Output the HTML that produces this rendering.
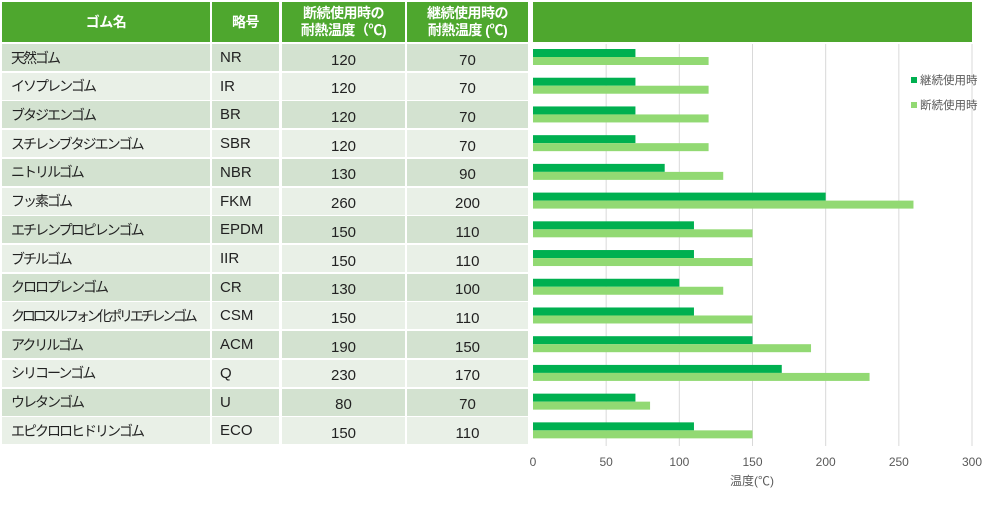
<!DOCTYPE html>
<html><head><meta charset="utf-8">
<style>
body{margin:0;width:1000px;height:511px;background:#fff;font-family:"Liberation Sans","Noto Sans CJK JP",sans-serif;position:relative;overflow:hidden}
.c{position:absolute;box-sizing:border-box;font-size:15px;color:#222;display:flex;align-items:center;white-space:nowrap;overflow:hidden}
.h{background:#4ea72e;color:#fff;font-weight:bold;justify-content:center;text-align:center;line-height:17px;font-size:14px;letter-spacing:-0.5px}
.n{font-size:14px;letter-spacing:-2px}
svg{position:absolute;left:0;top:0}
</style></head><body>
<div id="tbl"></div>
<svg id="chart" width="1000" height="511"></svg>
<script>
const names=["天然ゴム","イソプレンゴム","ブタジエンゴム","スチレンブタジエンゴム","ニトリルゴム","フッ素ゴム","エチレンプロピレンゴム","ブチルゴム","クロロプレンゴム","クロロスルフォン化ポリエチレンゴム","アクリルゴム","シリコーンゴム","ウレタンゴム","エピクロロヒドリンゴム"];
const codes=["NR","IR","BR","SBR","NBR","FKM","EPDM","IIR","CR","CSM","ACM","Q","U","ECO"];
const intermittent=[120,120,120,120,130,260,150,150,130,150,190,230,80,150];
const continuous=[70,70,70,70,90,200,110,110,100,110,150,170,70,110];
const xTicks=[0,50,100,150,200,250,300];

const tbl=document.getElementById('tbl');
const rowY=i=>44+i*28.72, rowH=27;
function cell(x,y,w,h,cls,html,bg,name,just){
  const d=document.createElement('div');
  d.className='c '+cls;
  d.style.cssText=`left:${x}px;top:${y}px;width:${w}px;height:${h}px;${bg?'background:'+bg+';':''}${just||''}`;
  d.innerHTML=html;
  
  
  tbl.appendChild(d);
}
cell(2,2,208,40,'h','ゴム名',null,'header-rubber-name');
cell(212,2,67,40,'h','略号',null,'header-code');
cell(282,2,123,40,'h','断続使用時の<br>耐熱温度（℃)',null,'header-intermittent');
cell(407,2,121,40,'h','継続使用時の<br>耐熱温度 (℃)',null,'header-continuous');
cell(533,2,439,40,'h','',null,'header-chart');
names.forEach((n,i)=>{
  const bg=i%2?'#e9f0e7':'#d3e2d0';
  const y=rowY(i);
  const ls=n.length>12?'letter-spacing:-3.2px;':'';
  cell(2,y,208,rowH,'n',n,bg,'rubber-name','padding-left:9px;'+ls);
  cell(212,y,67,rowH,'',codes[i],bg,'rubber-code','padding-left:8px;');
  cell(282,y,123,rowH,'',intermittent[i],bg,'intermittent-value','justify-content:center;padding-top:5px;');
  cell(407,y,121,rowH,'',continuous[i],bg,'continuous-value','justify-content:center;padding-top:5px;');
});

const svg=document.getElementById('chart');const NS='http://www.w3.org/2000/svg';
const x0=533,x1=972,xmax=300;
const xs=v=>x0+(v/xmax)*(x1-x0);
function el(t,a,name){const e=document.createElementNS(NS,t);for(const k in a)e.setAttribute(k,a[k]);
  
  
  svg.appendChild(e);return e;}
xTicks.forEach(t=>{
  if(t>0) el('line',{x1:xs(t),x2:xs(t),y1:44,y2:446,stroke:'#d9d9d9','stroke-width':1},'gridline');
  const tx=el('text',{x:xs(t),y:466,'text-anchor':'middle','font-size':12,fill:'#595959'},'x-tick-label');tx.textContent=t;
});
const xt=el('text',{x:752,y:485,'text-anchor':'middle','font-size':12,fill:'#595959'},'x-axis-title');xt.textContent='温度(℃)';
names.forEach((n,i)=>{
  const y=rowY(i);
  el('rect',{x:x0,y:y+5,width:xs(continuous[i])-x0,height:8,fill:'#00b050'},'bar-continuous');
  el('rect',{x:x0,y:y+13,width:xs(intermittent[i])-x0,height:8,fill:'#92d973'},'bar-intermittent');
});
el('rect',{x:911,y:77,width:6,height:6,fill:'#00b050'},'legend-swatch-continuous');
let lt=el('text',{x:920,y:84,'font-size':11.5,fill:'#595959'},'legend-entry-continuous');lt.textContent='継続使用時';
el('rect',{x:911,y:102,width:6,height:6,fill:'#92d973'},'legend-swatch-intermittent');
lt=el('text',{x:920,y:109,'font-size':11.5,fill:'#595959'},'legend-entry-intermittent');lt.textContent='断続使用時';
</script>
</body></html>
